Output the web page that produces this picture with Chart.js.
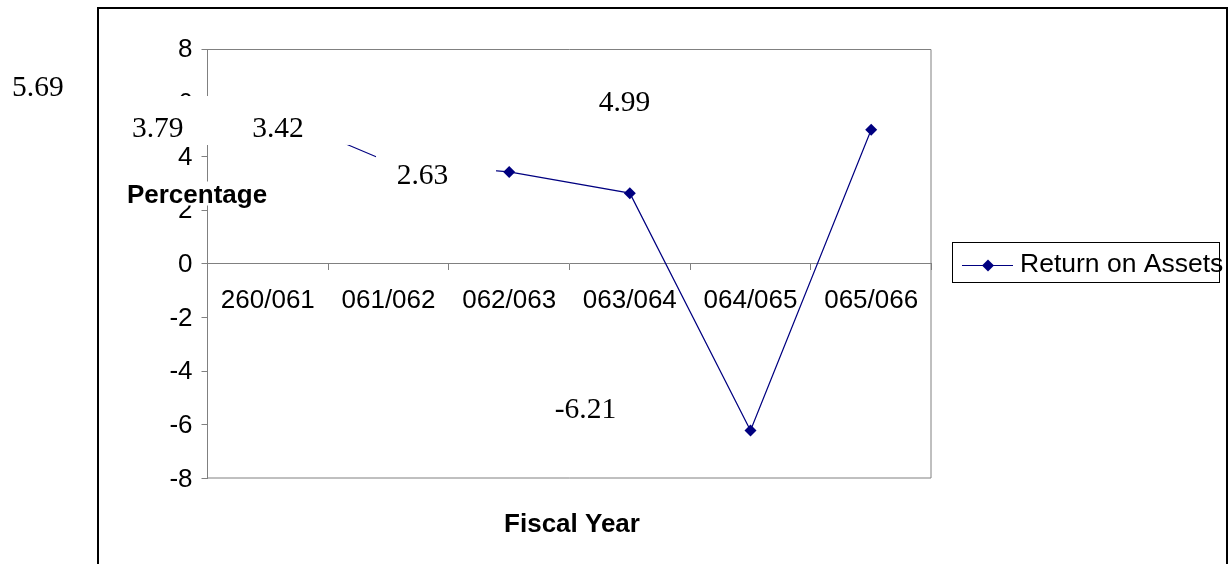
<!DOCTYPE html>
<html>
<head>
<meta charset="utf-8">
<title>Return on Assets</title>
<script src="https://cdn.jsdelivr.net/npm/chart.js@4.4.1/dist/chart.umd.min.js"></script>
<style>
  html, body { margin: 0; padding: 0; background: #ffffff; }
  #wrap { position: relative; width: 1228px; height: 564px; }
</style>
</head>
<body>
<div id="wrap"><canvas id="roa" width="1228" height="564"></canvas></div>
<script>
// Return on Assets by fiscal year (percent)
const fiscalYears = ['260/061', '061/062', '062/063', '063/064', '064/065', '065/066'];
const returnOnAssets = [5.69, 3.79, 3.42, 2.63, -6.21, 4.99];
const yTickValues = [-8, -6, -4, -2, 0, 2, 4, 6, 8];
const seriesName = 'Return on Assets';
const yAxisTitle = 'Percentage';
const xAxisTitle = 'Fiscal Year';

const SANS = '"Liberation Sans", Arial, sans-serif';
const SERIF = '"Liberation Serif", "Times New Roman", serif';
const NAVY = '#000080';
const AXIS_GREY = '#808080';

// Value labels: white-filled boxes carrying the value text, placed
// relative to each point.
const valueLabels = {
  id: 'valueLabels',
  afterDatasetsDraw(chart, args, opts) {
    const ctx = chart.ctx;
    const pts = chart.getDatasetMeta(0).data;
    const spots = pts.map((p, i) => ({ x: p.x + opts.shift[i][0], y: p.y + opts.shift[i][1] }));
    ctx.save();
    ctx.fillStyle = '#ffffff';
    spots.forEach(s => ctx.fillRect(s.x - opts.padLeft, s.y - opts.above, opts.boxWidth, opts.above + opts.below));
    ctx.fillStyle = '#000000';
    ctx.font = opts.font;
    ctx.textAlign = 'center';
    ctx.textBaseline = 'alphabetic';
    spots.forEach((s, i) => ctx.fillText(returnOnAssets[i].toFixed(2), s.x, s.y));
    ctx.restore();
  }
};

// Plot-area frame, axis titles, legend and the outer chart border.
const chartFrame = {
  id: 'chartFrame',
  afterDraw(chart) {
    const ctx = chart.ctx;
    const a = chart.chartArea;
    ctx.save();

    // plot area border
    ctx.strokeStyle = AXIS_GREY;
    ctx.lineWidth = 1;
    ctx.beginPath();
    ctx.moveTo(a.left, a.top + 0.5);
    ctx.lineTo(a.right - 0.5, a.top + 0.5);
    ctx.lineTo(a.right - 0.5, a.bottom - 0.5);
    ctx.lineTo(a.left, a.bottom - 0.5);
    ctx.stroke();

    // y axis title (horizontal, with white fill)
    ctx.font = 'bold 26px ' + SANS;
    ctx.textAlign = 'center';
    ctx.textBaseline = 'alphabetic';
    const ytx = a.left - 10.5, yty = 202.5;
    const yw = ctx.measureText(yAxisTitle).width;
    ctx.fillStyle = '#ffffff';
    ctx.fillRect(ytx - yw / 2 - 2, yty - 21, yw + 4, 24);
    ctx.fillStyle = '#000000';
    ctx.fillText(yAxisTitle, ytx, yty);

    // x axis title
    ctx.fillText(xAxisTitle, (a.left + a.right) / 2 + 2.5, 531.5);

    // legend
    const ds = chart.data.datasets[0];
    const lx = 952.5, ly = 242.5, lw = 267, lh = 40;
    ctx.strokeStyle = '#000000';
    ctx.lineWidth = 1;
    ctx.strokeRect(lx, ly, lw, lh);
    const my = ly + 23;
    ctx.strokeStyle = ds.borderColor;
    ctx.lineWidth = 1;
    ctx.beginPath();
    ctx.moveTo(962, my);
    ctx.lineTo(1013, my);
    ctx.stroke();
    ctx.fillStyle = ds.pointBackgroundColor;
    ctx.beginPath();
    const r = ds.pointRadius;
    ctx.moveTo(988, my - r);
    ctx.lineTo(988 + r, my);
    ctx.lineTo(988, my + r);
    ctx.lineTo(988 - r, my);
    ctx.closePath();
    ctx.fill();
    ctx.fillStyle = '#000000';
    ctx.font = '26.5px ' + SANS;
    ctx.textAlign = 'left';
    ctx.textBaseline = 'middle';
    ctx.fillText(ds.label, 1020, my - 1);

    // outer chart border
    ctx.strokeStyle = '#000000';
    ctx.lineWidth = 2;
    ctx.strokeRect(98, 8, 1129, 620);
    ctx.restore();
  }
};

new Chart(document.getElementById('roa'), {
  type: 'line',
  data: {
    labels: fiscalYears,
    datasets: [{
      label: seriesName,
      data: returnOnAssets,
      borderColor: NAVY,
      backgroundColor: NAVY,
      pointBackgroundColor: NAVY,
      pointBorderColor: NAVY,
      borderWidth: 1.2,
      pointStyle: 'rectRot',
      pointRadius: 6,
      pointBorderWidth: 0,
      tension: 0,
      fill: false
    }]
  },
  options: {
    responsive: false,
    devicePixelRatio: 1,
    animation: false,
    events: [],
    layout: { padding: { left: 0, top: 49, right: 296.5, bottom: 85.5 } },
    plugins: {
      legend: { display: false },
      tooltip: { enabled: false },
      title: { display: false },
      valueLabels: {
        font: '29.5px ' + SERIF,
        shift: [[-230, -15.3], [-230.7, -25.3], [-231.2, -35.3], [-207.3, -9.2], [-165, -12.7], [-246.7, -19.1]],
        padLeft: 46.5,
        boxWidth: 120,
        above: 40.7,
        below: 8.3
      }
    },
    scales: {
      x: {
        type: 'category',
        position: { y: 0 },
        offset: true,
        grid: { drawOnChartArea: false, drawTicks: true, tickLength: 6, offset: true, color: AXIS_GREY },
        border: { display: true, color: AXIS_GREY, width: 1 },
        ticks: {
          color: '#000000',
          font: { family: SANS, size: 26 },
          padding: 15.5,
          maxRotation: 0,
          minRotation: 0,
          autoSkip: false
        },
        afterFit(scale) { scale.height = 0; }
      },
      y: {
        position: 'left',
        min: -8,
        max: 8,
        grid: { drawOnChartArea: false, drawTicks: true, tickLength: 6, color: AXIS_GREY },
        border: { display: true, color: AXIS_GREY, width: 1 },
        ticks: {
          color: '#000000',
          font: { family: SANS, size: 26 },
          padding: 9,
          labelOffset: 1
        },
        afterBuildTicks(scale) { scale.ticks = yTickValues.map(v => ({ value: v })); },
        afterFit(scale) { scale.width = 207.5; }
      }
    }
  },
  plugins: [valueLabels, chartFrame]
});
</script>
</body>
</html>
